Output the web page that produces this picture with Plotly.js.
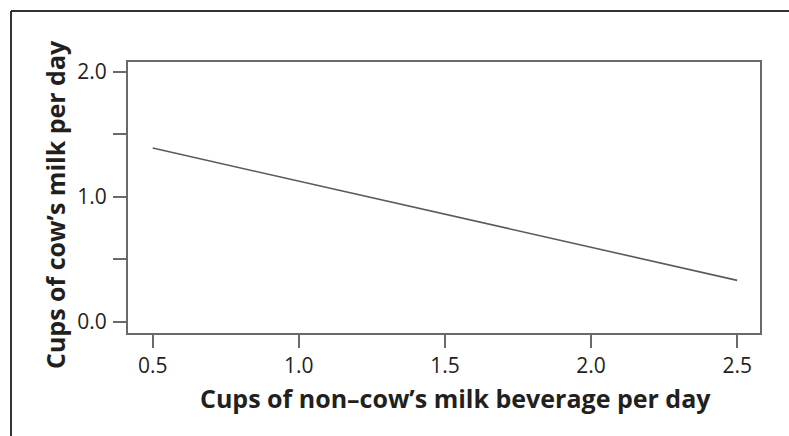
<!DOCTYPE html>
<html>
<head>
<meta charset="utf-8">
<script src="https://cdn.plot.ly/plotly-3.0.1.min.js"></script>
<style>
html,body{margin:0;padding:0;background:#fff;}
#chart{width:789px;height:436px;}
</style>
</head>
<body>
<div id="chart"></div>
<script>
// Data
const nonCowMilkCups = [0.5, 2.5];
const cowMilkCups = [1.39, 0.33];
const xTickVals = [0.5, 1.0, 1.5, 2.0, 2.5];
const xTickText = ["0.5", "1.0", "1.5", "2.0", "2.5"];
const yTickVals = [0, 0.5, 1.0, 1.5, 2.0];
const yTickText = ["0.0", "", "1.0", "", "2.0"];
const xTitle = "Cups of non\u2013cow\u2019s milk beverage per day";
const yTitle = "Cups of cow\u2019s milk per day";

const L = 128, R = 760, T = 62, B = 333, W = 789, H = 436;
const px = v => (v - L) / (R - L);
const py = v => (B - v) / (B - T);

const fontFam = '"Open Sans", "Noto Sans", sans-serif';
const textColor = '#231f20';
const axisColor = '#6a6a6a';

const trace = {
  x: nonCowMilkCups,
  y: cowMilkCups,
  type: 'scatter',
  mode: 'lines',
  line: {color: '#5a5a5a', width: 1.6},
  hoverinfo: 'skip',
  showlegend: false
};

const layout = {
  width: W, height: H,
  margin: {l: L, r: W - R, t: T, b: H - B, pad: 0},
  paper_bgcolor: '#fff',
  plot_bgcolor: '#fff',
  font: {family: fontFam, color: textColor, size: 21},
  xaxis: {
    range: [0.4155, 2.578],
    tickvals: xTickVals, ticktext: xTickText,
    ticks: 'outside', ticklen: 13, tickwidth: 2, tickcolor: axisColor,
    showline: true, mirror: true, linecolor: axisColor, linewidth: 2,
    showgrid: false, zeroline: false,
    tickfont: {size: 21, color: textColor, family: fontFam},
    fixedrange: true
  },
  yaxis: {
    range: [-0.092, 2.08],
    tickvals: yTickVals, ticktext: yTickText,
    ticks: 'outside', ticklen: 13, tickwidth: 2, tickcolor: axisColor,
    ticklabelstandoff: 2,
    showline: true, mirror: true, linecolor: axisColor, linewidth: 2,
    showgrid: false, zeroline: false,
    tickfont: {size: 21, color: textColor, family: fontFam},
    fixedrange: true
  },
  annotations: [
    {text: '<b>' + xTitle + '</b>', xref: 'paper', yref: 'paper',
     x: px(455), y: py(398), xanchor: 'center', yanchor: 'middle', showarrow: false,
     font: {size: 25, color: textColor, family: fontFam}},
    {text: '<b>' + yTitle + '</b>', xref: 'paper', yref: 'paper',
     x: px(55), y: py(205), xanchor: 'center', yanchor: 'middle', showarrow: false, textangle: -90,
     font: {size: 25, color: textColor, family: fontFam}}
  ],
  shapes: [
    {type: 'line', xref: 'paper', yref: 'paper', x0: px(11), x1: px(800), y0: py(11), y1: py(11),
     line: {color: '#333', width: 2}},
    {type: 'line', xref: 'paper', yref: 'paper', x0: px(11), x1: px(11), y0: py(11), y1: py(450),
     line: {color: '#333', width: 2}}
  ]
};

Plotly.newPlot('chart', [trace], layout, {displayModeBar: false, staticPlot: true});
</script>
</body>
</html>
